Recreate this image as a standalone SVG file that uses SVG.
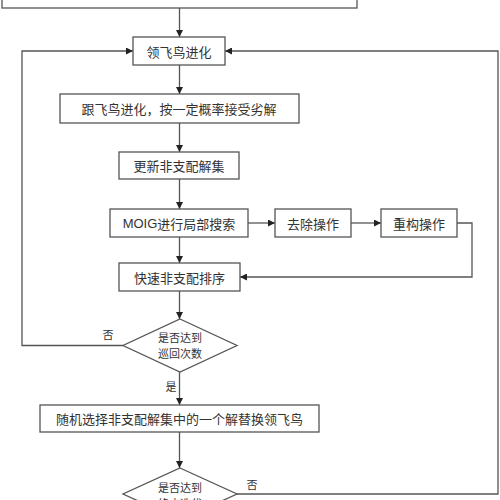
<svg xmlns="http://www.w3.org/2000/svg" width="500" height="500" viewBox="0 0 500 500">
<defs>
<marker id="ah" viewBox="0 0 10 10" refX="10" refY="5" markerWidth="8" markerHeight="7" markerUnits="userSpaceOnUse" orient="auto">
<path d="M0,0 L10,5 L0,10 z" fill="#222"/>
</marker>
<style>
.box{fill:#fff;stroke:#555;stroke-width:1.3}
.ln{fill:none;stroke:#555;stroke-width:1.3}
.arr{fill:none;stroke:#555;stroke-width:1.3;marker-end:url(#ah)}
.t{font-family:"Noto Sans CJK SC","Liberation Serif",serif;font-size:13px;fill:#333;text-anchor:middle;dominant-baseline:central}
.ts{font-family:"Noto Sans CJK SC","Liberation Serif",serif;font-size:11px;fill:#333;text-anchor:middle;dominant-baseline:central}
.m{font-family:"Liberation Sans","Noto Sans CJK SC",sans-serif}
</style>
</defs>
<rect width="500" height="500" fill="#fff"/>
<g id="connectors">
<path class="arr" d="M179.5,8 V37"/>
<path class="arr" d="M179.5,65 V94"/>
<path class="arr" d="M179.5,123 V152"/>
<path class="arr" d="M179.5,179 V209"/>
<path class="arr" d="M248,223 H275"/>
<path class="arr" d="M351,223 H381"/>
<path class="arr" d="M457,223 H472 V277 H240"/>
<path class="arr" d="M179.5,237 V263"/>
<path class="arr" d="M179.5,291 V319"/>
<path class="arr" d="M123,345.5 H22 V51 H133"/>
<path class="arr" d="M179.5,372 V405"/>
<path class="arr" d="M179.5,432 V468"/>
<path class="arr" d="M237,494 H498 V51 H225"/>
<text class="ts" x="108" y="334">否</text>
<text class="ts" x="171" y="386">是</text>
<text class="ts" x="252" y="484">否</text>
</g>
<g id="start"><rect class="box" x="2" y="-30" width="355" height="38"/></g>
<g id="n1"><rect class="box" x="133" y="37" width="92" height="28"/><text class="t" x="179" y="51">领飞鸟进化</text></g>
<g id="n2"><rect class="box" x="60" y="94" width="239" height="29"/><text class="t" x="179" y="108.5">跟飞鸟进化，按一定概率接受劣解</text></g>
<g id="n3"><rect class="box" x="119" y="152" width="120" height="27"/><text class="t" x="179" y="165.5">更新非支配解集</text></g>
<g id="n4"><rect class="box" x="110" y="209" width="138" height="28"/><text class="t" x="179" y="223"><tspan class="m">MOIG</tspan>进行局部搜索</text></g>
<g id="n5"><rect class="box" x="275" y="209" width="76" height="28"/><text class="t" x="313" y="223">去除操作</text></g>
<g id="n6"><rect class="box" x="381" y="209" width="76" height="28"/><text class="t" x="419" y="223">重构操作</text></g>
<g id="n7"><rect class="box" x="119" y="263" width="121" height="28"/><text class="t" x="179.5" y="277">快速非支配排序</text></g>
<g id="d1"><polygon class="box" points="180,319 237,345.5 180,372 123,345.5"/><text class="ts" x="180" y="337">是否达到</text><text class="ts" x="180" y="353">巡回次数</text></g>
<g id="n8"><rect class="box" x="40" y="405" width="279" height="27"/><text class="t" x="179.5" y="418.5">随机选择非支配解集中的一个解替换领飞鸟</text></g>
<g id="d2"><polygon class="box" points="180,468 237,494 180,520 123,494"/><text class="ts" x="180" y="487">是否达到</text><text class="ts" x="180" y="503">终止迭代</text></g>
</svg>
